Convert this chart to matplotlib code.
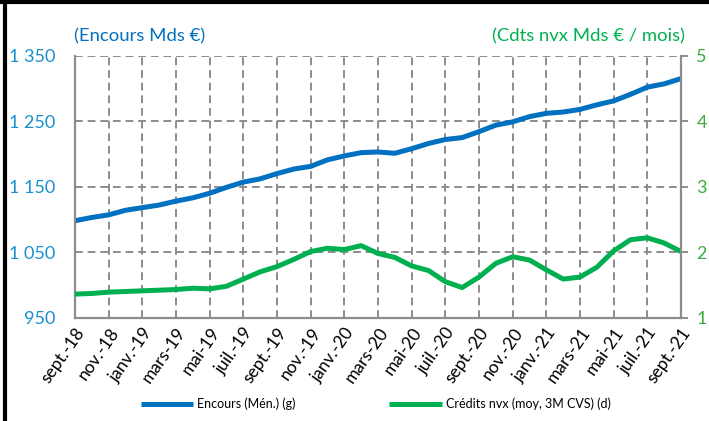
import matplotlib
matplotlib.use("Agg")
import matplotlib.pyplot as plt
from matplotlib.lines import Line2D

plt.rcParams['font.family'] = ['Lato', 'DejaVu Sans']

# Données (sept. 2018 -> sept. 2021, mensuel)
mois = ["sept.-18", "nov.-18", "janv.-19", "mars-19", "mai-19", "juil.-19",
        "sept.-19", "nov.-19", "janv.-20", "mars-20", "mai-20", "juil.-20",
        "sept.-20", "nov.-20", "janv.-21", "mars-21", "mai-21", "juil.-21",
        "sept.-21"]

encours = [1098, 1103, 1107, 1114, 1118, 1122, 1128, 1133, 1140, 1149,
           1157, 1162, 1170, 1177, 1181, 1191, 1197, 1202, 1203, 1201,
           1208, 1216, 1222, 1225, 1234, 1244, 1249, 1257, 1262, 1264,
           1268, 1275, 1281, 1291, 1302, 1307, 1315]

credits = [1.36, 1.37, 1.39, 1.40, 1.41, 1.42, 1.43, 1.45, 1.44, 1.48,
           1.59, 1.70, 1.78, 1.89, 2.01, 2.06, 2.04, 2.10, 1.98, 1.92,
           1.79, 1.72, 1.55, 1.46, 1.62, 1.83, 1.93, 1.88, 1.73, 1.59,
           1.62, 1.77, 2.02, 2.19, 2.22, 2.14, 2.01]

x = list(range(len(encours)))

bleu = '#0070C0'
vert = '#00B050'
gris = '#8C8C8C'

fig = plt.figure(figsize=(7.09, 4.21), dpi=100)
ax = fig.add_axes([0.1058, 0.2454, 0.8547, 0.6223])
ax2 = ax.twinx()

l1, = ax.plot(x, encours, color=bleu, lw=3.6, solid_capstyle='butt')
l2, = ax2.plot(x, credits, color=vert, lw=3.6, solid_capstyle='butt')

ax.set_xlim(0, 36)
ax.set_ylim(950, 1350)
ax2.set_ylim(1, 5)
ax.set_yticks([950, 1050, 1150, 1250, 1350])
ax.set_yticklabels(["950", "1 050", "1 150", "1 250", "1 350"])
ax2.set_yticks([1, 2, 3, 4, 5])
ax.set_xticks(x[::2])
ax.set_xticklabels(mois, rotation=55, ha='right', rotation_mode='anchor')

ax.grid(True, color=gris, lw=1.4, linestyle=(0, (4, 2.5)))
ax.set_axisbelow(True)

for a in (ax, ax2):
    for s in a.spines.values():
        s.set_visible(False)
ax.spines['left'].set_visible(True)
ax.spines['bottom'].set_visible(True)
ax2.spines['right'].set_visible(True)
for s in (ax.spines['left'], ax.spines['bottom'], ax2.spines['right']):
    s.set_color(gris)
    s.set_linewidth(1.6)

ax.tick_params(axis='y', length=0, labelsize=13, labelcolor='#1A8FD0', pad=14)
ax.tick_params(axis='x', length=0, labelsize=12.5, labelcolor='black', pad=5)
ax2.tick_params(axis='y', length=5, color=gris, width=1.4, labelsize=13,
                labelcolor='#3DAA3D', pad=6)

fig.text(0.104, 0.895, "(Encours Mds €)", color=bleu, fontsize=13.3,
         ha='left', va='bottom')
fig.text(0.966, 0.895, "(Cdts nvx Mds € / mois)", color=vert, fontsize=13.3,
         ha='right', va='bottom')

fig.legend([l1, l2], ["Encours (Mén.) (g)", "Crédits nvx (moy, 3M CVS) (d)"],
           loc='center', bbox_to_anchor=(0.53, 0.04), ncol=2, frameon=False,
           fontsize=9, handlelength=4.2, columnspacing=7.5, handletextpad=0.3)

# cadre noir (gauche et haut)
fig.add_artist(Line2D([0.007, 0.007], [0, 1], transform=fig.transFigure,
                      color='black', lw=3))
fig.add_artist(Line2D([0, 1], [0.996, 0.996], transform=fig.transFigure,
                      color='black', lw=3))

fig.savefig("out.png", dpi=100)
